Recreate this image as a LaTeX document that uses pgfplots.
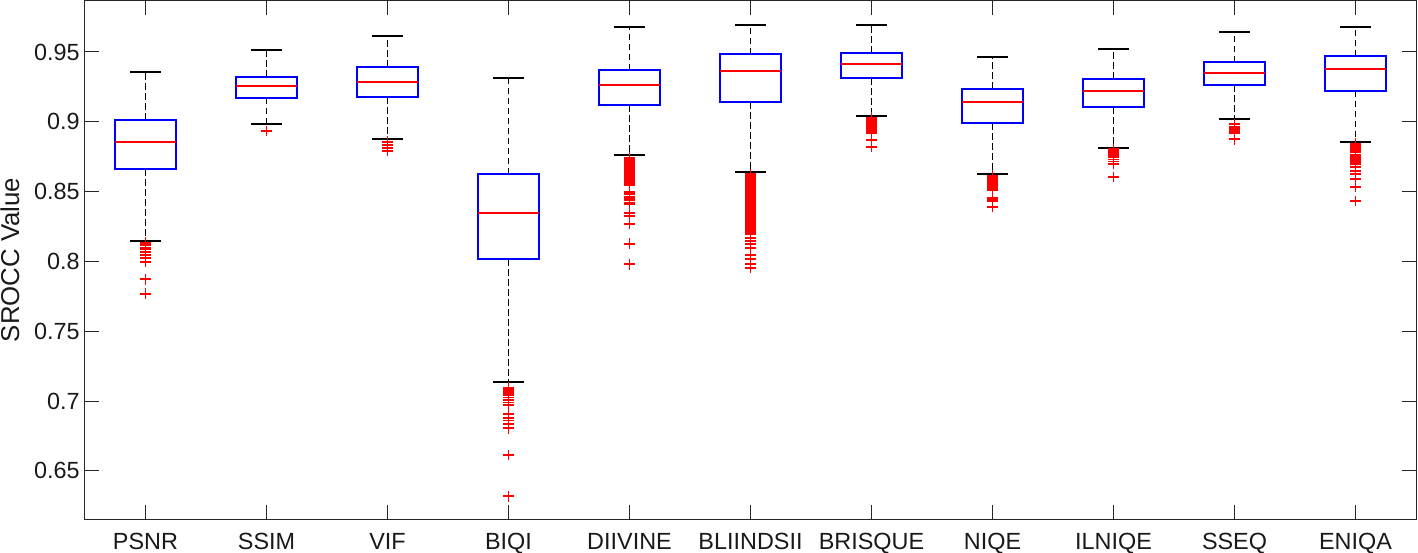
\documentclass[border=0pt]{standalone}
\usepackage{pgfplots}
\pgfplotsset{compat=1.18}
\usepgfplotslibrary{statistics}
\usetikzlibrary{calc}
\usepackage{fontspec}
\setmainfont{Liberation Sans}
\definecolor{axgray}{RGB}{38,38,38}

\pgfplotsset{
  mybox/.style={
    red, solid,
    boxplot/draw direction=y,
    boxplot/box extend=0.5,
    boxplot/whisker extend=0.25,
    boxplot/draw/box/.code={%
      \draw[blue, solid, line width=1pt] (boxplot box cs:\pgfplotsboxplotvalue{lower quartile},0) rectangle (boxplot box cs:\pgfplotsboxplotvalue{upper quartile},1);},
    boxplot/draw/median/.code={%
      \draw[red, solid, line width=0.9pt] (boxplot box cs:\pgfplotsboxplotvalue{median},0) -- (boxplot box cs:\pgfplotsboxplotvalue{median},1);},
    boxplot/draw/lower whisker/.code={%
      \draw[black, line width=0.6pt, dash pattern=on 3.3pt off 1.7pt] (boxplot box cs:\pgfplotsboxplotvalue{lower quartile},0.5) -- (boxplot box cs:\pgfplotsboxplotvalue{lower whisker},0.5);
      \draw[black, solid, line width=1pt] (boxplot whisker cs:\pgfplotsboxplotvalue{lower whisker},0) -- (boxplot whisker cs:\pgfplotsboxplotvalue{lower whisker},1);},
    boxplot/draw/upper whisker/.code={%
      \draw[black, line width=0.6pt, dash pattern=on 3.3pt off 1.7pt] (boxplot box cs:\pgfplotsboxplotvalue{upper quartile},0.5) -- (boxplot box cs:\pgfplotsboxplotvalue{upper whisker},0.5);
      \draw[black, solid, line width=1pt] (boxplot whisker cs:\pgfplotsboxplotvalue{upper whisker},0) -- (boxplot whisker cs:\pgfplotsboxplotvalue{upper whisker},1);},
    mark=+, mark size=2.7pt, mark options={draw=red, line width=0.9pt, solid},
  }
}

\begin{document}
\begin{tikzpicture}
\begin{axis}[
  scale only axis, width=665.5pt, height=259pt,
  xmin=0.5, xmax=11.5, ymin=0.6155, ymax=0.9865,
  xtick={1,2,3,4,5,6,7,8,9,10,11},
  xticklabels={PSNR,SSIM,VIF,BIQI,DIIVINE,BLIINDSII,BRISQUE,NIQE,ILNIQE,SSEQ,ENIQA},
  ytick={0.65,0.7,0.75,0.8,0.85,0.9,0.95},
  yticklabels={0.65,0.7,0.75,0.8,0.85,0.9,0.95},
  tick align=inside, major tick length=7pt,
  axis line style={axgray, line width=0.5pt},
  every tick/.style={axgray, line width=0.5pt},
  ticklabel style={font=\fontsize{11.7}{14}\selectfont, text=black!90},
  xticklabel style={anchor=base, yshift=-15.2pt},
  yticklabel style={anchor=east, inner sep=0pt, xshift=-2.5pt},
  ylabel={SROCC Value},
  every axis y label/.style={at={(rel axis cs:0,0.5)}, xshift=-37.5pt, rotate=90, anchor=center, font=\fontsize{12.9}{15}\selectfont, text=black!90},
]
% PSNR
\addplot[mybox, boxplot prepared={draw position=1, lower whisker=0.8146, lower quartile=0.866, median=0.8853, upper quartile=0.9013, upper whisker=0.936}]
  table[row sep=\\, y index=0]{data\\ 0.8135\\ 0.8127\\ 0.8115\\ 0.8098\\ 0.8085\\ 0.807\\ 0.8046\\ 0.8022\\ 0.7995\\ 0.7872\\ 0.7769\\};
% SSIM
\addplot[mybox, boxplot prepared={draw position=2, lower whisker=0.8986, lower quartile=0.9173, median=0.9254, upper quartile=0.9323, upper whisker=0.9512}]
  table[row sep=\\, y index=0]{data\\ 0.8934\\};
% VIF
\addplot[mybox, boxplot prepared={draw position=3, lower whisker=0.8879, lower quartile=0.9178, median=0.9287, upper quartile=0.9393, upper whisker=0.9617}]
  table[row sep=\\, y index=0]{data\\ 0.8857\\ 0.8835\\ 0.8815\\ 0.8791\\};
% BIQI
\addplot[mybox, boxplot prepared={draw position=4, lower whisker=0.7138, lower quartile=0.8015, median=0.8345, upper quartile=0.8624, upper whisker=0.9316}]
  table[row sep=\\, y index=0]{data\\ 0.7095\\ 0.7085\\ 0.708\\ 0.707\\ 0.706\\ 0.705\\ 0.704\\ 0.7025\\ 0.701\\ 0.699\\ 0.697\\ 0.6905\\ 0.688\\ 0.686\\ 0.6835\\ 0.6805\\ 0.6613\\ 0.6319\\};
% DIIVINE
\addplot[mybox, boxplot prepared={draw position=5, lower whisker=0.876, lower quartile=0.912, median=0.9261, upper quartile=0.9369, upper whisker=0.9681}]
  table[row sep=\\, y index=0]{data\\ 0.8743\\ 0.8735\\ 0.8725\\ 0.872\\ 0.871\\ 0.870\\ 0.8685\\ 0.868\\ 0.867\\ 0.866\\ 0.865\\ 0.864\\ 0.863\\ 0.862\\ 0.861\\ 0.860\\ 0.859\\ 0.858\\ 0.857\\ 0.856\\ 0.855\\ 0.850\\ 0.849\\ 0.848\\ 0.846\\ 0.845\\ 0.844\\ 0.842\\ 0.841\\ 0.8349\\ 0.8325\\ 0.827\\ 0.8127\\ 0.7979\\};
% BLIINDSII
\addplot[mybox, boxplot prepared={draw position=6, lower whisker=0.864, lower quartile=0.9142, median=0.9362, upper quartile=0.9484, upper whisker=0.9693}]
  table[row sep=\\, y index=0]{data\\ 0.8625\\ 0.8615\\ 0.8605\\ 0.8595\\ 0.8585\\ 0.8575\\ 0.857\\ 0.856\\ 0.855\\ 0.854\\ 0.853\\ 0.852\\ 0.851\\ 0.850\\ 0.849\\ 0.848\\ 0.847\\ 0.846\\ 0.845\\ 0.844\\ 0.843\\ 0.842\\ 0.841\\ 0.840\\ 0.839\\ 0.838\\ 0.837\\ 0.836\\ 0.835\\ 0.834\\ 0.833\\ 0.832\\ 0.831\\ 0.830\\ 0.829\\ 0.828\\ 0.827\\ 0.826\\ 0.825\\ 0.824\\ 0.823\\ 0.822\\ 0.821\\ 0.8195\\ 0.817\\ 0.8145\\ 0.8125\\ 0.8095\\ 0.8045\\ 0.8015\\ 0.798\\ 0.7955\\};
% BRISQUE
\addplot[mybox, boxplot prepared={draw position=7, lower whisker=0.9042, lower quartile=0.9312, median=0.9412, upper quartile=0.9495, upper whisker=0.9693}]
  table[row sep=\\, y index=0]{data\\ 0.903\\ 0.9022\\ 0.9015\\ 0.9007\\ 0.900\\ 0.8992\\ 0.8985\\ 0.897\\ 0.8955\\ 0.8945\\ 0.8935\\ 0.8927\\ 0.892\\ 0.887\\ 0.8822\\};
% NIQE
\addplot[mybox, boxplot prepared={draw position=8, lower whisker=0.8624, lower quartile=0.8991, median=0.9144, upper quartile=0.9235, upper whisker=0.9464}]
  table[row sep=\\, y index=0]{data\\ 0.8615\\ 0.8607\\ 0.8600\\ 0.8592\\ 0.8585\\ 0.8575\\ 0.8565\\ 0.8555\\ 0.8545\\ 0.8535\\ 0.8525\\ 0.8517\\ 0.851\\ 0.8456\\ 0.8445\\ 0.8433\\ 0.839\\};
% ILNIQE
\addplot[mybox, boxplot prepared={draw position=9, lower whisker=0.8812, lower quartile=0.9106, median=0.9218, upper quartile=0.9307, upper whisker=0.9521}]
  table[row sep=\\, y index=0]{data\\ 0.8805\\ 0.8797\\ 0.879\\ 0.8782\\ 0.8775\\ 0.8767\\ 0.876\\ 0.8752\\ 0.8745\\ 0.873\\ 0.8715\\ 0.870\\ 0.8605\\};
% SSEQ
\addplot[mybox, boxplot prepared={draw position=10, lower whisker=0.9018, lower quartile=0.9261, median=0.9352, upper quartile=0.9426, upper whisker=0.9641}]
  table[row sep=\\, y index=0]{data\\ 0.8982\\ 0.8965\\ 0.8957\\ 0.895\\ 0.8942\\ 0.8935\\ 0.8922\\ 0.8875\\};
% ENIQA
\addplot[mybox, boxplot prepared={draw position=11, lower whisker=0.8853, lower quartile=0.9223, median=0.938, upper quartile=0.9469, upper whisker=0.9681}]
  table[row sep=\\, y index=0]{data\\ 0.8845\\ 0.884\\ 0.8835\\ 0.8825\\ 0.8815\\ 0.8807\\ 0.88\\ 0.8785\\ 0.8765\\ 0.8757\\ 0.875\\ 0.8742\\ 0.8735\\ 0.8727\\ 0.872\\ 0.8712\\ 0.8705\\ 0.8696\\ 0.8678\\ 0.8648\\ 0.8624\\ 0.8588\\ 0.8535\\ 0.8433\\};
\coordinate (SW) at (rel axis cs:0,0);
\coordinate (NE) at (rel axis cs:1,1);
\end{axis}
\pgfresetboundingbox
\path ($(SW)+(-42.5pt,-16.9pt)$) rectangle ($(NE)+(1pt,0.5pt)$);
\end{tikzpicture}
\end{document}
